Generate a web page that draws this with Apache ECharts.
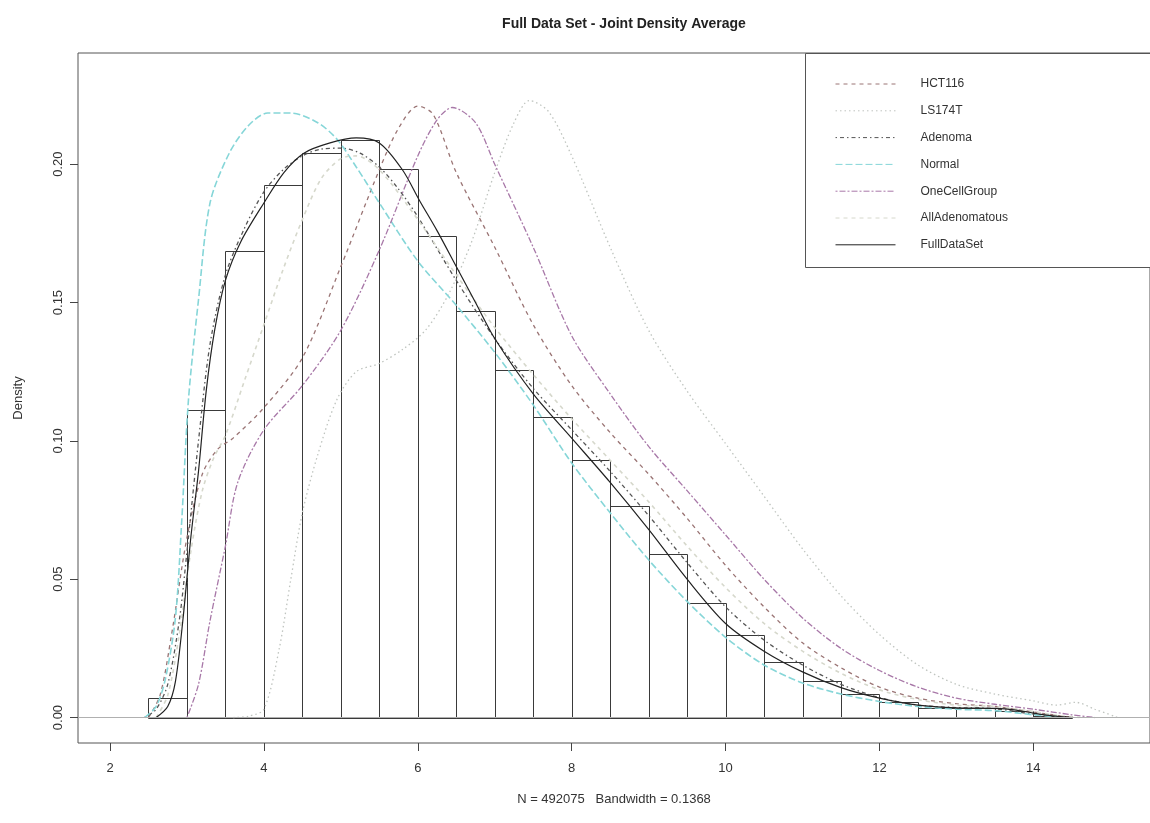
<!DOCTYPE html>
<html>
<head>
<meta charset="utf-8">
<script src="https://cdn.jsdelivr.net/npm/echarts@6/dist/echarts.min.js"></script>
<style>
  html, body { margin: 0; padding: 0; background: #fff; }
  #chart { width: 1150px; height: 823px; }
</style>
</head>
<body>
<div id="chart"></div>
<script>
// histogram of the full data set
const binEdges = [2.5, 3, 3.5, 4, 4.5, 5, 5.5, 6, 6.5, 7, 7.5, 8, 8.5, 9, 9.5, 10, 10.5, 11, 11.5, 12, 12.5, 13, 13.5, 14, 14.5]
const binDensity = [0.007, 0.1113, 0.1685, 0.1924, 0.2041, 0.2087, 0.1982, 0.1742, 0.147, 0.1255, 0.1085, 0.093,
  0.0765, 0.059, 0.0415, 0.030, 0.020, 0.0132, 0.0086, 0.0056, 0.0036, 0.0035, 0.0025, 0.0006]

// density curves, [x, density]
const hct116 = [[2.5, 0], [2.65, 0.008], [2.8, 0.03], [3.0, 0.065], [3.2, 0.088], [3.4, 0.097], [3.6, 0.101], [4.0, 0.112],
  [4.5, 0.13], [5.0, 0.163], [5.5, 0.198], [5.75, 0.213], [6.0, 0.221], [6.2, 0.218], [6.5, 0.197], [7.0, 0.17],
  [7.5, 0.142], [8.0, 0.12], [8.5, 0.103], [9.0, 0.088], [9.5, 0.072], [10.0, 0.055], [10.5, 0.04], [11.0, 0.027],
  [11.5, 0.018], [12.0, 0.011], [12.5, 0.007], [13.0, 0.005], [13.5, 0.004], [14.0, 0.002], [14.5, 0]]
const ls174t = [[3.6, 0], [3.8, 0.0005], [4.0, 0.003], [4.2, 0.025], [4.35, 0.05], [4.5, 0.074], [4.7, 0.095], [4.95, 0.115],
  [5.2, 0.125], [5.5, 0.128], [5.8, 0.133], [6.1, 0.14], [6.4, 0.153], [6.7, 0.172], [7.0, 0.197], [7.25, 0.215],
  [7.45, 0.223], [7.7, 0.219], [8.0, 0.203], [8.5, 0.17], [9.0, 0.14], [9.5, 0.118], [10.0, 0.099], [10.5, 0.08],
  [11.0, 0.061], [11.5, 0.044], [12.0, 0.03], [12.5, 0.019], [13.0, 0.012], [13.5, 0.0085], [14.0, 0.006],
  [14.3, 0.0045], [14.55, 0.0055], [14.8, 0.003], [15.1, 0]]
const adenoma = [[2.45, 0], [2.6, 0.003], [2.75, 0.012], [2.9, 0.035], [3.0, 0.06], [3.15, 0.1], [3.3, 0.135], [3.5, 0.16],
  [3.75, 0.177], [4.0, 0.19], [4.25, 0.198], [4.5, 0.203], [4.75, 0.2055], [5.0, 0.2058], [5.25, 0.204], [5.5, 0.199],
  [5.75, 0.191], [6.0, 0.181], [6.5, 0.158], [7.0, 0.137], [7.5, 0.119], [8.0, 0.104], [8.5, 0.089], [9.0, 0.073],
  [9.5, 0.056], [10.0, 0.04], [10.5, 0.028], [11.0, 0.019], [11.5, 0.012], [12.0, 0.0072], [12.5, 0.0045],
  [13.0, 0.0036], [13.5, 0.0032], [14.0, 0.0012], [14.4, 0]]
const normal = [[2.45, 0], [2.6, 0.004], [2.72, 0.014], [2.85, 0.036], [2.93, 0.07], [3.02, 0.115], [3.15, 0.151],
  [3.3, 0.186], [3.55, 0.204], [3.8, 0.214], [4.05, 0.2185], [4.35, 0.2185], [4.7, 0.215], [4.95, 0.209], [5.2, 0.199],
  [5.5, 0.186], [6.0, 0.165], [6.5, 0.149], [7.0, 0.132], [7.5, 0.113], [8.0, 0.092], [8.5, 0.074], [9.0, 0.057],
  [9.5, 0.042], [10.0, 0.029], [10.5, 0.019], [11.0, 0.0125], [11.5, 0.0085], [12.0, 0.0058], [12.5, 0.004],
  [13.0, 0.003], [13.5, 0.0025], [14.0, 0.001], [14.4, 0]]
const oneCellGroup = [[3.0, 0], [3.15, 0.012], [3.3, 0.035], [3.5, 0.062], [3.66, 0.085], [4.0, 0.104], [4.5, 0.12],
  [5.0, 0.14], [5.5, 0.169], [6.0, 0.203], [6.25, 0.216], [6.45, 0.2205], [6.75, 0.215], [7.0, 0.2], [7.5, 0.17],
  [8.0, 0.138], [8.5, 0.117], [9.0, 0.098], [9.5, 0.082], [10.0, 0.066], [10.5, 0.05], [11.0, 0.036], [11.5, 0.025],
  [12.0, 0.017], [12.5, 0.011], [13.0, 0.007], [13.5, 0.0048], [14.0, 0.003], [14.5, 0.001], [14.8, 0]]
const allAdenomatous = [[2.6, 0], [2.75, 0.008], [2.9, 0.03], [3.05, 0.06], [3.2, 0.082], [3.35, 0.094], [3.5, 0.102],
  [3.75, 0.122], [4.0, 0.142], [4.25, 0.162], [4.5, 0.18], [4.75, 0.195], [5.0, 0.202], [5.2, 0.203], [5.5, 0.198],
  [6.0, 0.18], [6.5, 0.16], [7.0, 0.141], [7.5, 0.124], [8.0, 0.108], [8.5, 0.093], [9.0, 0.078], [9.5, 0.062],
  [10.0, 0.047], [10.5, 0.034], [11.0, 0.024], [11.5, 0.016], [12.0, 0.01], [12.5, 0.0065], [13.0, 0.0045],
  [13.5, 0.004], [14.0, 0.0022], [14.3, 0.0008], [14.6, 0]]
const fullDataSet = [[2.6, 0], [2.75, 0.004], [2.85, 0.013], [2.95, 0.036], [3.05, 0.065], [3.15, 0.089], [3.25, 0.118],
  [3.36, 0.14], [3.5, 0.158], [3.7, 0.172], [4.0, 0.186], [4.26, 0.197], [4.52, 0.204], [4.86, 0.2077], [5.2, 0.2095],
  [5.5, 0.2077], [5.8, 0.198], [6.02, 0.187], [6.25, 0.176], [6.5, 0.163], [6.75, 0.15], [7.0, 0.137], [7.5, 0.117],
  [8.0, 0.101], [8.5, 0.085], [9.0, 0.068], [9.5, 0.05], [10.0, 0.034], [10.5, 0.024], [11.0, 0.0165], [11.5, 0.0108],
  [12.0, 0.007], [12.5, 0.0045], [13.0, 0.0035], [13.5, 0.0033], [13.75, 0.0028], [14.0, 0.0016], [14.25, 0.0006], [14.5, 0]]

const xTicks = [2, 4, 6, 8, 10, 12, 14]
const yTicks = [0, 0.05, 0.1, 0.15, 0.2]

const font = 'Liberation Sans, Arial, sans-serif'

const chart = echarts.init(document.getElementById('chart'))

const histData = binDensity.map((d, i) => [binEdges[i], binEdges[i + 1], d])

function curve(name, data, color, dash, width) {
  return {
    name: name,
    type: 'line',
    data: data,
    smooth: 0.3,
    showSymbol: false,
    symbol: 'none',
    silent: true,
    z: 3,
    lineStyle: { color: color, width: width || 1.3, type: dash },
    itemStyle: { color: color }
  }
}

const option = {
  backgroundColor: '#fff',
  animation: false,
  title: {
    text: 'Full Data Set - Joint Density Average',
    left: 619,
    top: 12,
    textAlign: 'center',
    textStyle: { fontFamily: font, fontSize: 14, fontWeight: 'bold', color: '#222' }
  },
  legend: {
    orient: 'vertical',
    left: 830,
    top: 72,
    itemWidth: 60,
    itemHeight: 14,
    itemGap: 12.8,
    selectedMode: false,
    itemStyle: { opacity: 0 },
    lineStyle: { width: 1 },
    textStyle: { fontFamily: font, fontSize: 12, color: '#333', padding: [0, 0, 0, 20], lineHeight: 14 },
    data: ['HCT116', 'LS174T', 'Adenoma', 'Normal', 'OneCellGroup', 'AllAdenomatous', 'FullDataSet']
  },
  graphic: [
    {
      type: 'rect',
      z: 0,
      shape: { x: 805.5, y: 53.5, width: 400, height: 214 },
      style: { fill: '#fff', stroke: '#555', lineWidth: 1 }
    }
  ],
  grid: {
    left: 78,
    top: 53,
    width: 1082,
    height: 690,
    show: true,
    borderColor: '#555',
    borderWidth: 1
  },
  xAxis: {
    type: 'value',
    min: 1.584,
    max: 15.516,
    name: 'N = 492075   Bandwidth = 0.1368',
    nameLocation: 'middle',
    nameGap: 50,
    nameTextStyle: { fontFamily: font, fontSize: 13, color: '#333' },
    axisLine: { show: false, onZero: false },
    splitLine: { show: false },
    axisTick: { show: true, inside: false, length: 8, lineStyle: { color: '#444' }, customValues: xTicks },
    axisLabel: { fontFamily: font, fontSize: 13, color: '#333', margin: 19, customValues: xTicks }
  },
  yAxis: {
    type: 'value',
    min: -0.0092,
    max: 0.2402,
    name: 'Density',
    nameLocation: 'middle',
    nameRotate: 90,
    nameGap: 53,
    nameTextStyle: { fontFamily: font, fontSize: 13, color: '#333' },
    axisLine: { show: false, onZero: false },
    splitLine: { show: false },
    axisTick: { show: true, inside: false, length: 8, lineStyle: { color: '#444' }, customValues: yTicks },
    axisLabel: {
      fontFamily: font, fontSize: 13, color: '#333', rotate: 90, margin: 13,
      customValues: yTicks,
      formatter: (v) => v.toFixed(2)
    }
  },
  series: [
    {
      name: 'hist',
      type: 'custom',
      silent: true,
      z: 2,
      data: histData,
      encode: { x: [0, 1], y: 2 },
      renderItem: function (params, api) {
        const p0 = api.coord([api.value(0), api.value(2)])
        const p1 = api.coord([api.value(1), 0])
        return {
          type: 'rect',
          shape: { x: Math.round(p0[0]) + 0.5, y: Math.round(p0[1]) + 0.5, width: Math.round(p1[0]) - Math.round(p0[0]), height: Math.round(p1[1]) - Math.round(p0[1]) },
          style: { fill: 'none', stroke: '#3a3a3a', lineWidth: 1 }
        }
      }
    },
    curve('HCT116', hct116, '#9a7474', [4, 4]),
    curve('LS174T', ls174t, '#bfc4bf', [1.5, 3]),
    curve('Adenoma', adenoma, '#555', [1.5, 3, 4, 3]),
    curve('Normal', normal, '#86d6d8', [7, 3], 1.6),
    curve('OneCellGroup', oneCellGroup, '#a878a8', [2, 2, 6, 2]),
    curve('AllAdenomatous', allAdenomatous, '#d6d8cc', [4, 4], 1.6),
    {
      name: 'FullDataSet',
      type: 'line',
      data: fullDataSet,
      smooth: 0.3,
      showSymbol: false,
      symbol: 'none',
      silent: true,
      z: 4,
      lineStyle: { color: '#222', width: 1.2 },
      itemStyle: { color: '#222' },
      markLine: {
        silent: true,
        symbol: 'none',
        label: { show: false },
        lineStyle: { color: '#b0b0b0', width: 1, type: 'solid' },
        data: [{ yAxis: 0 }]
      }
    }
  ]
}

chart.setOption(option, true)
</script>
</body>
</html>
